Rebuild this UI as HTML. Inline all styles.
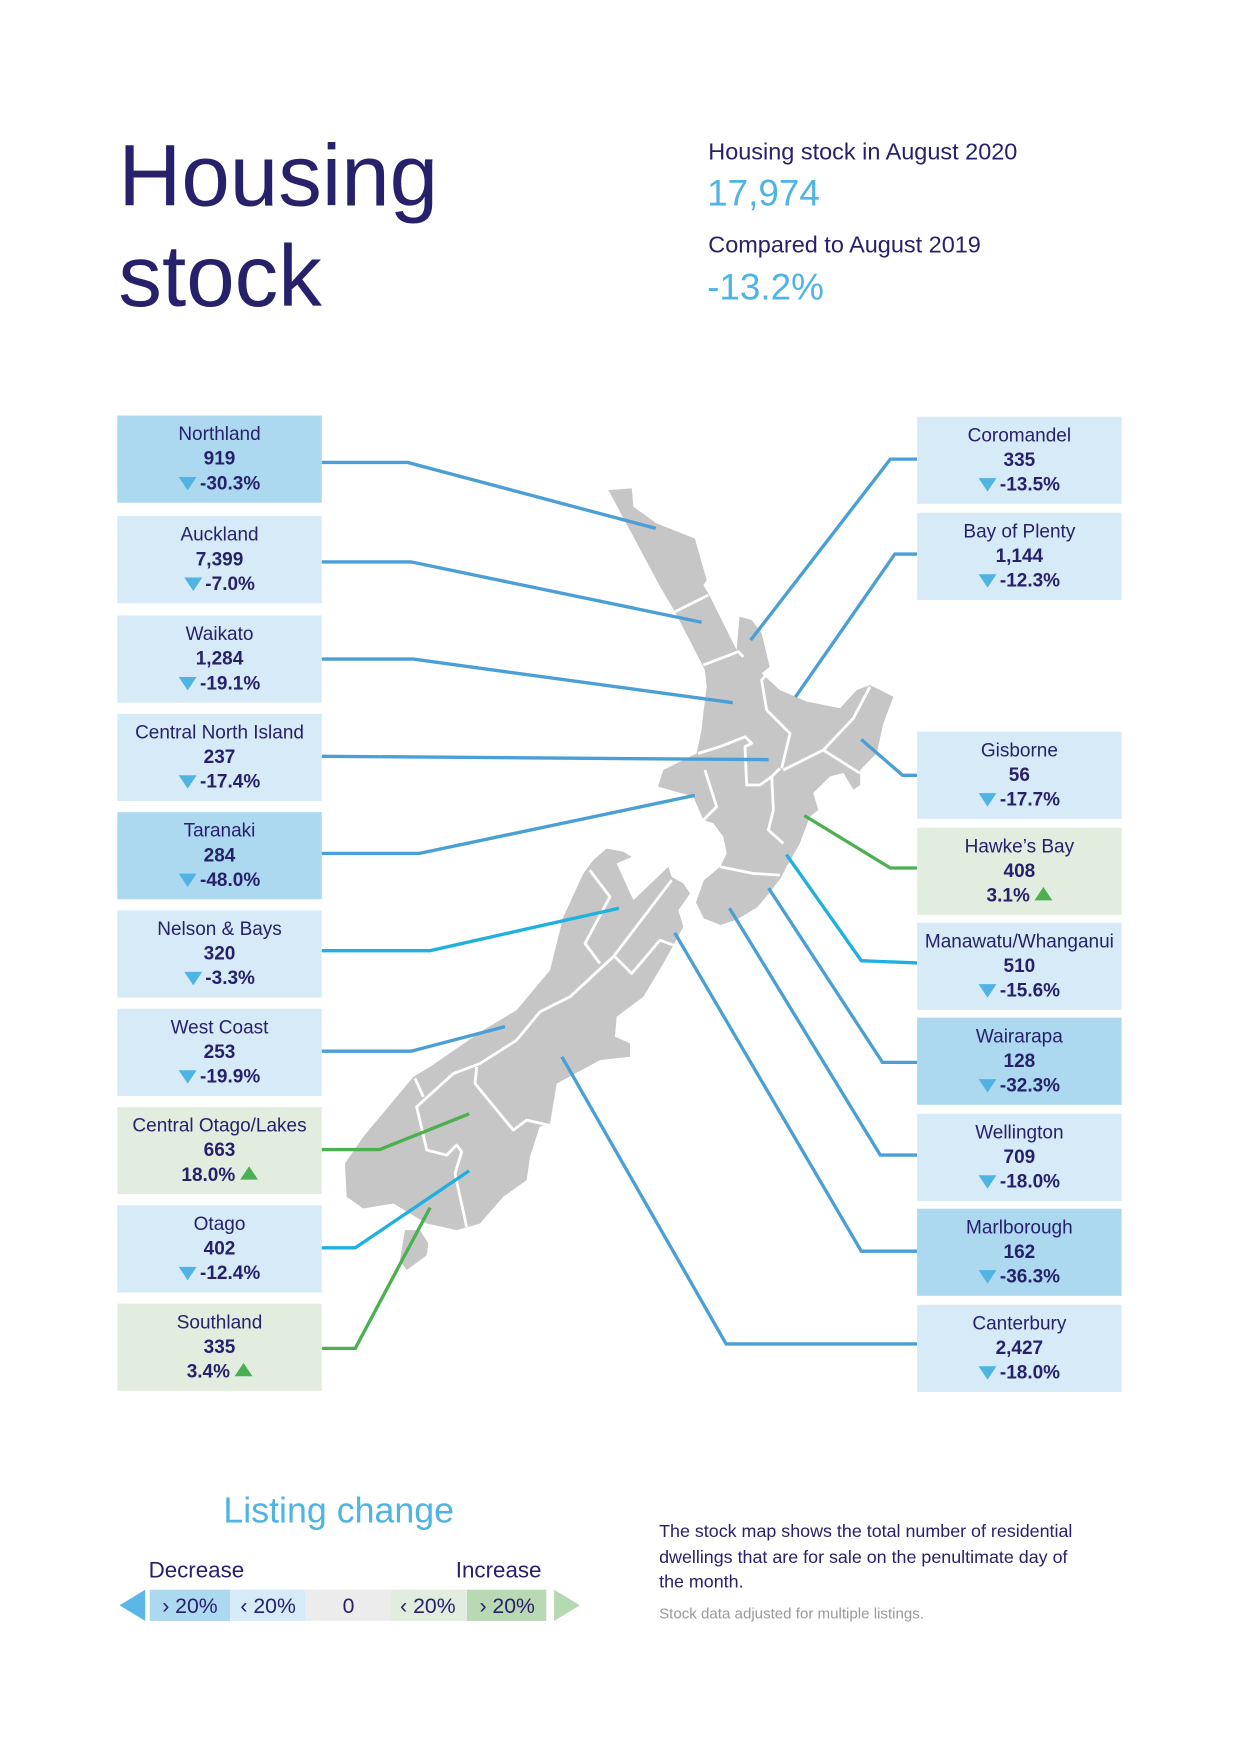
<!DOCTYPE html>
<html><head><meta charset="utf-8">
<style>
html,body{margin:0;padding:0;background:#fff;}
body{width:1240px;height:1754px;overflow:hidden;position:relative;font-family:"Liberation Sans",sans-serif;color:#27206b;}
#page{position:absolute;left:0;top:0;width:1110px;height:1570px;transform:scale(1.11712);transform-origin:0 0;}
.t{position:absolute;white-space:nowrap;}
.box{position:absolute;width:183px;height:78px;text-align:center;font-size:17px;line-height:22px;}
.box .n{padding-top:6px;}
.box b{font-weight:bold;}
.dn{display:inline-block;width:0;height:0;border-left:8px solid transparent;border-right:8px solid transparent;border-top:12px solid #4fb3e3;margin-right:3px;vertical-align:-1px;}
.up{display:inline-block;width:0;height:0;border-left:8px solid transparent;border-right:8px solid transparent;border-bottom:12px solid #4caf50;margin-left:4px;vertical-align:1px;}
svg{position:absolute;left:0;top:0;}
</style></head><body>
<div id="page">
<div class="t" style="left:106px;top:112px;font-size:78px;line-height:90px;">Housing<br>stock</div>
<div class="t" style="left:634px;top:125px;font-size:21px;">Housing stock in August 2020</div>
<div class="t" style="left:633px;top:154px;font-size:33px;color:#4fb3e3;">17,974</div>
<div class="t" style="left:634px;top:208px;font-size:21px;">Compared to August 2019</div>
<div class="t" style="left:633px;top:238px;font-size:33px;color:#4fb3e3;">-13.2%</div>

<svg id="map" width="1110" height="1570">
<polygon fill="#c6c6c6" points="544.6,438.7 565.5,437.2 567,453.6 587.8,468.5 622,482 632.6,519.2 629.6,523.7 635.6,534 659.4,582 662,552 672.9,555 681.8,567 689,597 681.8,602.8 698,617.7 722,628 752,634 766.9,617.7 778.8,613.2 799.7,623.7 790.7,647.5 784.8,674.4 770,689.3 770,702.7 764,707 755,692 743,695 728,710 732.5,725 725,731 716,755 704,776 699,786 688,800 678,812 660,823 645,828 630,822 623,808 630,788 644.5,776 650.5,764 647.5,749 638.6,737 629.6,734 620.6,713 589,704.2 593.8,689.3 623.6,674.4 628,653.5 629.6,638.6 632.6,614.7 631,600 626.6,591 604.2,547.6 590.8,525 567,480.4"/>
<polygon fill="#c6c6c6" points="543,759.5 558,762.5 565.5,767 552,773 567,805.8 598.3,775.9 601.3,784.9 611.7,790.8 617.7,799.8 607.2,814.7 611.7,829.6 593.8,862.5 575.9,892.3 552,910.2 550.5,928 564,934 564,946 537,949 498.3,970 492.4,1005.7 483,1008.7 474.4,1035.5 471.4,1056.4 450.6,1071.3 429.7,1095.2 408.8,1101.2 382,1095.2 352.1,1077.3 325.2,1081.8 310.3,1071.3 308.8,1041.5 325.2,1017.6 370,964 384.9,955 432.7,922.1 462.5,904.2 492.4,868.4 504.3,820.7 522.2,781.9 531.1,770"/>
<polygon fill="#c6c6c6" points="362.5,1101.2 376,1101.2 383.4,1113 382,1123.6 364,1137 358,1128"/>
<g stroke="#fff" stroke-width="2.5" fill="none" stroke-linejoin="round">
<polyline points="604.2,547.6 634,532.7"/>
<polyline points="629.6,595.3 661,583.4 665.4,588"/>
<polyline points="689.3,599.8 681.8,608.8 686.3,635.6 707.2,656.5 699.7,687.8"/>
<polyline points="701.2,689.3 737,671.4 763.9,643 778.8,614.7"/>
<polyline points="737,671.4 770,692.3"/>
<polyline points="625,674.4 644.5,668.4 666.9,659.5 672.9,665.4 666.9,668.4 668.4,702.7 680.3,702.7 690.8,695.2 698.2,687.8"/>
<polyline points="631,689.3 641.5,722.2 629.6,734"/>
<polyline points="690.8,695.2 692.3,725 687.8,743 701.2,755"/>
<polyline points="644.5,775.9 674.4,781.9 698.2,783.4"/>
<polyline points="528,779 546,802.8 523.7,844.6 537,862.5"/>
<polyline points="601.3,787.9 549,856.5 510.2,892.3 483.4,905.7 462.5,931.1 429.7,952 405.8,961 373,990.8 382,1029.5 399.9,1034 408.8,1025 413.3,1031 407.3,1050.5 417.7,1098.2"/>
<polyline points="371.5,965.4 379,981.8"/>
<polyline points="426.7,955 425.2,969.9 459.5,1011.7 471.4,1002.7 490.9,1007.2"/>
<polyline points="549,855 565.5,871.4 590.8,841.6 602.7,846"/>
</g>
<g id="leaders" fill="none" stroke-width="3"></g>
</svg>
<div id="boxes"></div>

<div class="t" style="left:200px;top:1334px;font-size:32px;color:#4fb3e3;">Listing change</div>
<div class="t" style="left:133px;top:1395px;font-size:20px;">Decrease</div>
<div class="t" style="left:408px;top:1395px;font-size:20px;">Increase</div>
<svg width="1110" height="1570">
<polygon points="107,1437 130,1423 130,1451" fill="#5bb8e6"/>
<polygon points="496,1423 519,1437 496,1451" fill="#b5d9b0"/>
<rect x="134" y="1423" width="72" height="28" fill="#acd8f0"/>
<rect x="206" y="1423" width="67" height="28" fill="#d6eaf7"/>
<rect x="273" y="1423" width="77" height="28" fill="#ececec"/>
<rect x="350" y="1423" width="68" height="28" fill="#e2ede0"/>
<rect x="418" y="1423" width="71" height="28" fill="#b9d9b4"/>
<g font-family="Liberation Sans, sans-serif" font-size="19" fill="#27206b" text-anchor="middle">
<text x="170" y="1444">› 20%</text><text x="240" y="1444">‹ 20%</text><text x="312" y="1444">0</text><text x="383" y="1444">‹ 20%</text><text x="454" y="1444">› 20%</text>
</g>
</svg>
<div class="t" style="left:590px;top:1361px;font-size:16px;line-height:22.5px;white-space:normal;width:388px;">The stock map shows the total number of residential dwellings that are for sale on the penultimate day of the month.</div>
<div class="t" style="left:590px;top:1437px;font-size:13.5px;color:#999;">Stock data adjusted for multiple listings.</div>
</div>
<script>
const regionNames=["Northland","Auckland","Waikato","Central North Island","Taranaki","Nelson & Bays","West Coast","Central Otago/Lakes","Otago","Southland","Coromandel","Bay of Plenty","Gisborne","Hawke’s Bay","Manawatu/Whanganui","Wairarapa","Wellington","Marlborough","Canterbury"];
const stockValues=["919","7,399","1,284","237","284","320","253","663","402","335","335","1,144","56","408","510","128","709","162","2,427"];
const changeValues=[-30.3,-7.0,-19.1,-17.4,-48.0,-3.3,-19.9,18.0,-12.4,3.4,-13.5,-12.3,-17.7,3.1,-15.6,-32.3,-18.0,-36.3,-18.0];
const sides=["L","L","L","L","L","L","L","L","L","L","R","R","R","R","R","R","R","R","R"];
const boxTops=[372,462,551,639,727,815,903,991,1079,1167,373,459,655,741,826,911,997,1082,1168];
const leaderPaths=[
[[288,414],[365,414],[587,473]],[[288,503],[368,503],[628,557]],[[288,590],[370,590],[656,629]],[[288,677],[688,680]],[[288,764],[375,764],[622,712]],
[[288,851],[385,851],[554,813]],[[288,941],[368,941],[452,919]],[[288,1029],[340,1029],[420,997]],[[288,1117],[318,1117],[420,1048]],[[288,1207],[318,1207],[385,1081]],
[[821,411],[797,411],[672,573]],[[821,496],[801,496],[712,624]],[[821,694],[808,694],[771,662]],[[821,777],[797,777],[720,730]],[[821,862],[771,860],[704,765]],
[[821,951],[790,951],[688,795]],[[821,1034],[788,1034],[653,813]],[[821,1120],[771,1120],[604,835]],[[821,1203],[650,1203],[503,946]]];
const leaderColors=["#4a9fd6","#4a9fd6","#4a9fd6","#4a9fd6","#4a9fd6","#1fb0de","#4a9fd6","#4caf50","#1fb0de","#4caf50","#4a9fd6","#4a9fd6","#4a9fd6","#4caf50","#1fb0de","#4a9fd6","#4a9fd6","#4a9fd6","#4a9fd6"];
function boxColor(c){ if(c<=-20) return "#acd8f0"; if(c<0) return "#d6eaf7"; if(c<20) return "#e2ede0"; return "#b9d9b4"; }
const boxes=document.getElementById('boxes');
const g=document.getElementById('leaders');
const ns="http://www.w3.org/2000/svg";
for(let i=0;i<regionNames.length;i++){
  const pl=document.createElementNS(ns,'polyline');
  pl.setAttribute('points',leaderPaths[i].map(p=>p.join(',')).join(' '));
  pl.setAttribute('stroke',leaderColors[i]);
  
  
  g.appendChild(pl);
  const d=document.createElement('div');
  d.className='box';
  
  
  d.style.left=(sides[i]==="L"?105:821)+'px';
  d.style.top=boxTops[i]+'px';
  d.style.background=boxColor(changeValues[i]);
  const c=changeValues[i];
  const pct=c.toFixed(1)+"%";
  const chg=c<0?'<span class="dn"></span><b>'+pct+'</b>':'<b>'+pct+'</b><span class="up"></span>';
  d.innerHTML='<div class="n">'+regionNames[i]+'</div><div><b>'+stockValues[i]+'</b></div><div>'+chg+'</div>';
  boxes.appendChild(d);
}
</script>
</body></html>
